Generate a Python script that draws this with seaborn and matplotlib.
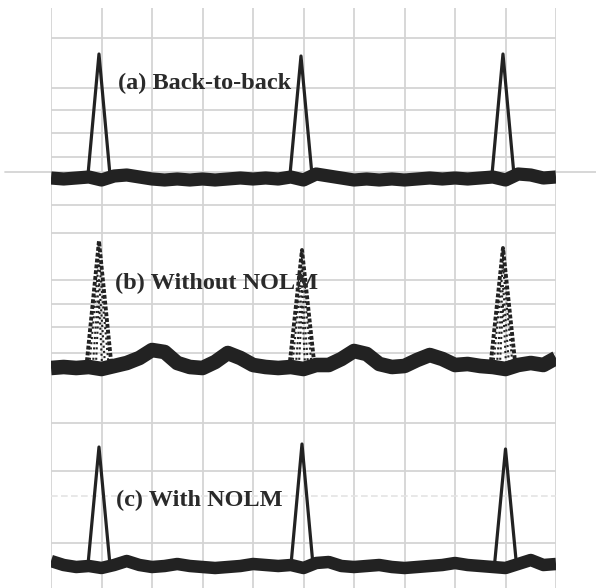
import matplotlib
matplotlib.use("Agg")
import matplotlib.pyplot as plt
import seaborn as sns

# time axis sample points, in screen divisions
TIME_DIV = [i / 4 for i in range(41)]

# baseline level (noise floor), arbitrary units
BASE_A = [0.2, 0.1, 0.2, 0.3, 0.0, 0.4, 0.5, 0.3, 0.1, 0.0, 0.1, 0.0, 0.1, 0.0,
          0.1, 0.2, 0.1, 0.2, 0.1, 0.3, 0.0, 0.6, 0.4, 0.2, 0.0, 0.1, 0.0, 0.1,
          0.0, 0.1, 0.2, 0.1, 0.2, 0.1, 0.2, 0.3, 0.0, 0.6, 0.5, 0.2, 0.3]
BASE_B = [0.3, 0.4, 0.3, 0.4, 0.2, 0.5, 0.8, 1.3, 2.1, 1.9, 0.8, 0.4, 0.3, 0.9,
          1.8, 1.3, 0.6, 0.4, 0.3, 0.4, 0.2, 0.6, 0.6, 1.2, 2.0, 1.7, 0.7, 0.4,
          0.5, 1.1, 1.6, 1.2, 0.6, 0.7, 0.5, 0.4, 0.2, 0.6, 0.8, 0.6, 1.3]
BASE_C = [0.9, 0.5, 0.3, 0.4, 0.2, 0.5, 0.9, 0.5, 0.3, 0.4, 0.6, 0.4, 0.3, 0.2,
          0.3, 0.4, 0.6, 0.5, 0.4, 0.5, 0.2, 0.7, 0.8, 0.4, 0.3, 0.4, 0.5, 0.3,
          0.2, 0.3, 0.4, 0.5, 0.7, 0.5, 0.4, 0.3, 0.2, 0.6, 1.0, 0.5, 0.6]

# pulse positions (divisions) and peak amplitudes (arbitrary units)
PULSE_POS_A = [0.95, 4.95, 8.95]
PULSE_PEAK_A = [12.6, 12.4, 12.6]
PULSE_POS_B = [0.95, 4.97, 8.95]
PULSE_PEAK_B = [13.0, 12.1, 12.3]
PULSE_POS_C = [0.95, 4.97, 9.0]
PULSE_PEAK_C = [12.3, 12.6, 12.1]

LABELS = ["(a) Back-to-back", "(b) Without NOLM", "(c) With NOLM"]

W, H = 596, 588
TRACE = "#222222"
GRID = "#d4d4d4"


def panel(fig, top, bottom, ylim, hlines):
    left, right = 51, 556
    ax = fig.add_axes([left / W, 1 - bottom / H, (right - left) / W, (bottom - top) / H])
    ax.set_xlim(0, 10)
    ax.set_ylim(*ylim)
    ax.set_xticks(range(11))
    ax.set_yticks(hlines)
    ax.tick_params(length=0, labelbottom=False, labelleft=False)
    ax.grid(True, color=GRID, lw=1.3)
    ax.set_axisbelow(True)
    for s in ax.spines.values():
        s.set_visible(False)
    ax.patch.set_alpha(0)
    return ax


def draw_trace(ax, base, pos, peak, lw, half, style="-", plw=2.3):
    sns.lineplot(x=TIME_DIV, y=base, ax=ax, color=TRACE, lw=lw,
                 estimator=None, sort=False, solid_capstyle="butt")
    for c, p in zip(pos, peak):
        sns.lineplot(x=[c - half, c, c + half], y=[0.4, p, 0.4], ax=ax,
                     color=TRACE, lw=plw, ls=style, estimator=None, sort=False)


def main():
    sns.set_style("white")
    fig = plt.figure(figsize=(W / 100, H / 100), dpi=100)

    ax_a = panel(fig, 8, 190, (-1.0, 17.2), [14.2, 9.2, 7.0, 4.7, 2.3])
    ax_a.axhline(0.8, xmin=-0.091, xmax=1.079, clip_on=False, color=GRID, lw=1.3)
    draw_trace(ax_a, BASE_A, PULSE_POS_A, PULSE_PEAK_A, 9.5, 0.22)

    ax_b = panel(fig, 190, 386, (-1.5, 18.1), [16.6, 13.8, 9.1, 6.7, 4.4, 1.8])
    draw_trace(ax_b, BASE_B, PULSE_POS_B, PULSE_PEAK_B, 10.5, 0.25,
               style=(0, (1, 0.5)), plw=2.8)
    # noisy pulses in (b): extra speckled inner edges
    for c, p in zip(PULSE_POS_B, PULSE_PEAK_B):
        for k, f in [(0.19, 0.85), (0.12, 0.7), (0.06, 0.55)]:
            sns.lineplot(x=[c - k, c, c + k], y=[0.6, p * f, 0.6], ax=ax_b,
                         color=TRACE, lw=1.5, ls=(0, (1, 1.5)),
                         estimator=None, sort=False)

    ax_c = panel(fig, 386, 588, (-1.8, 18.4), [14.7, 9.9, 2.7])
    ax_c.axhline(7.4, color="#e4e4e4", lw=1.2, ls=(0, (4, 2)))
    draw_trace(ax_c, BASE_C, PULSE_POS_C, PULSE_PEAK_C, 9.0, 0.22)

    text_kw = dict(fontfamily="Liberation Serif", fontweight="bold", fontsize=17.5,
                   va="center", ha="left", color="#2a2a2a")
    ax_a.text(1.33, 9.7, LABELS[0], **text_kw)
    ax_b.text(1.27, 8.8, LABELS[1], **text_kw)
    ax_c.text(1.29, 7.0, LABELS[2], **text_kw)

    fig.savefig("out.png", dpi=100, facecolor="white")


if __name__ == "__main__":
    main()
